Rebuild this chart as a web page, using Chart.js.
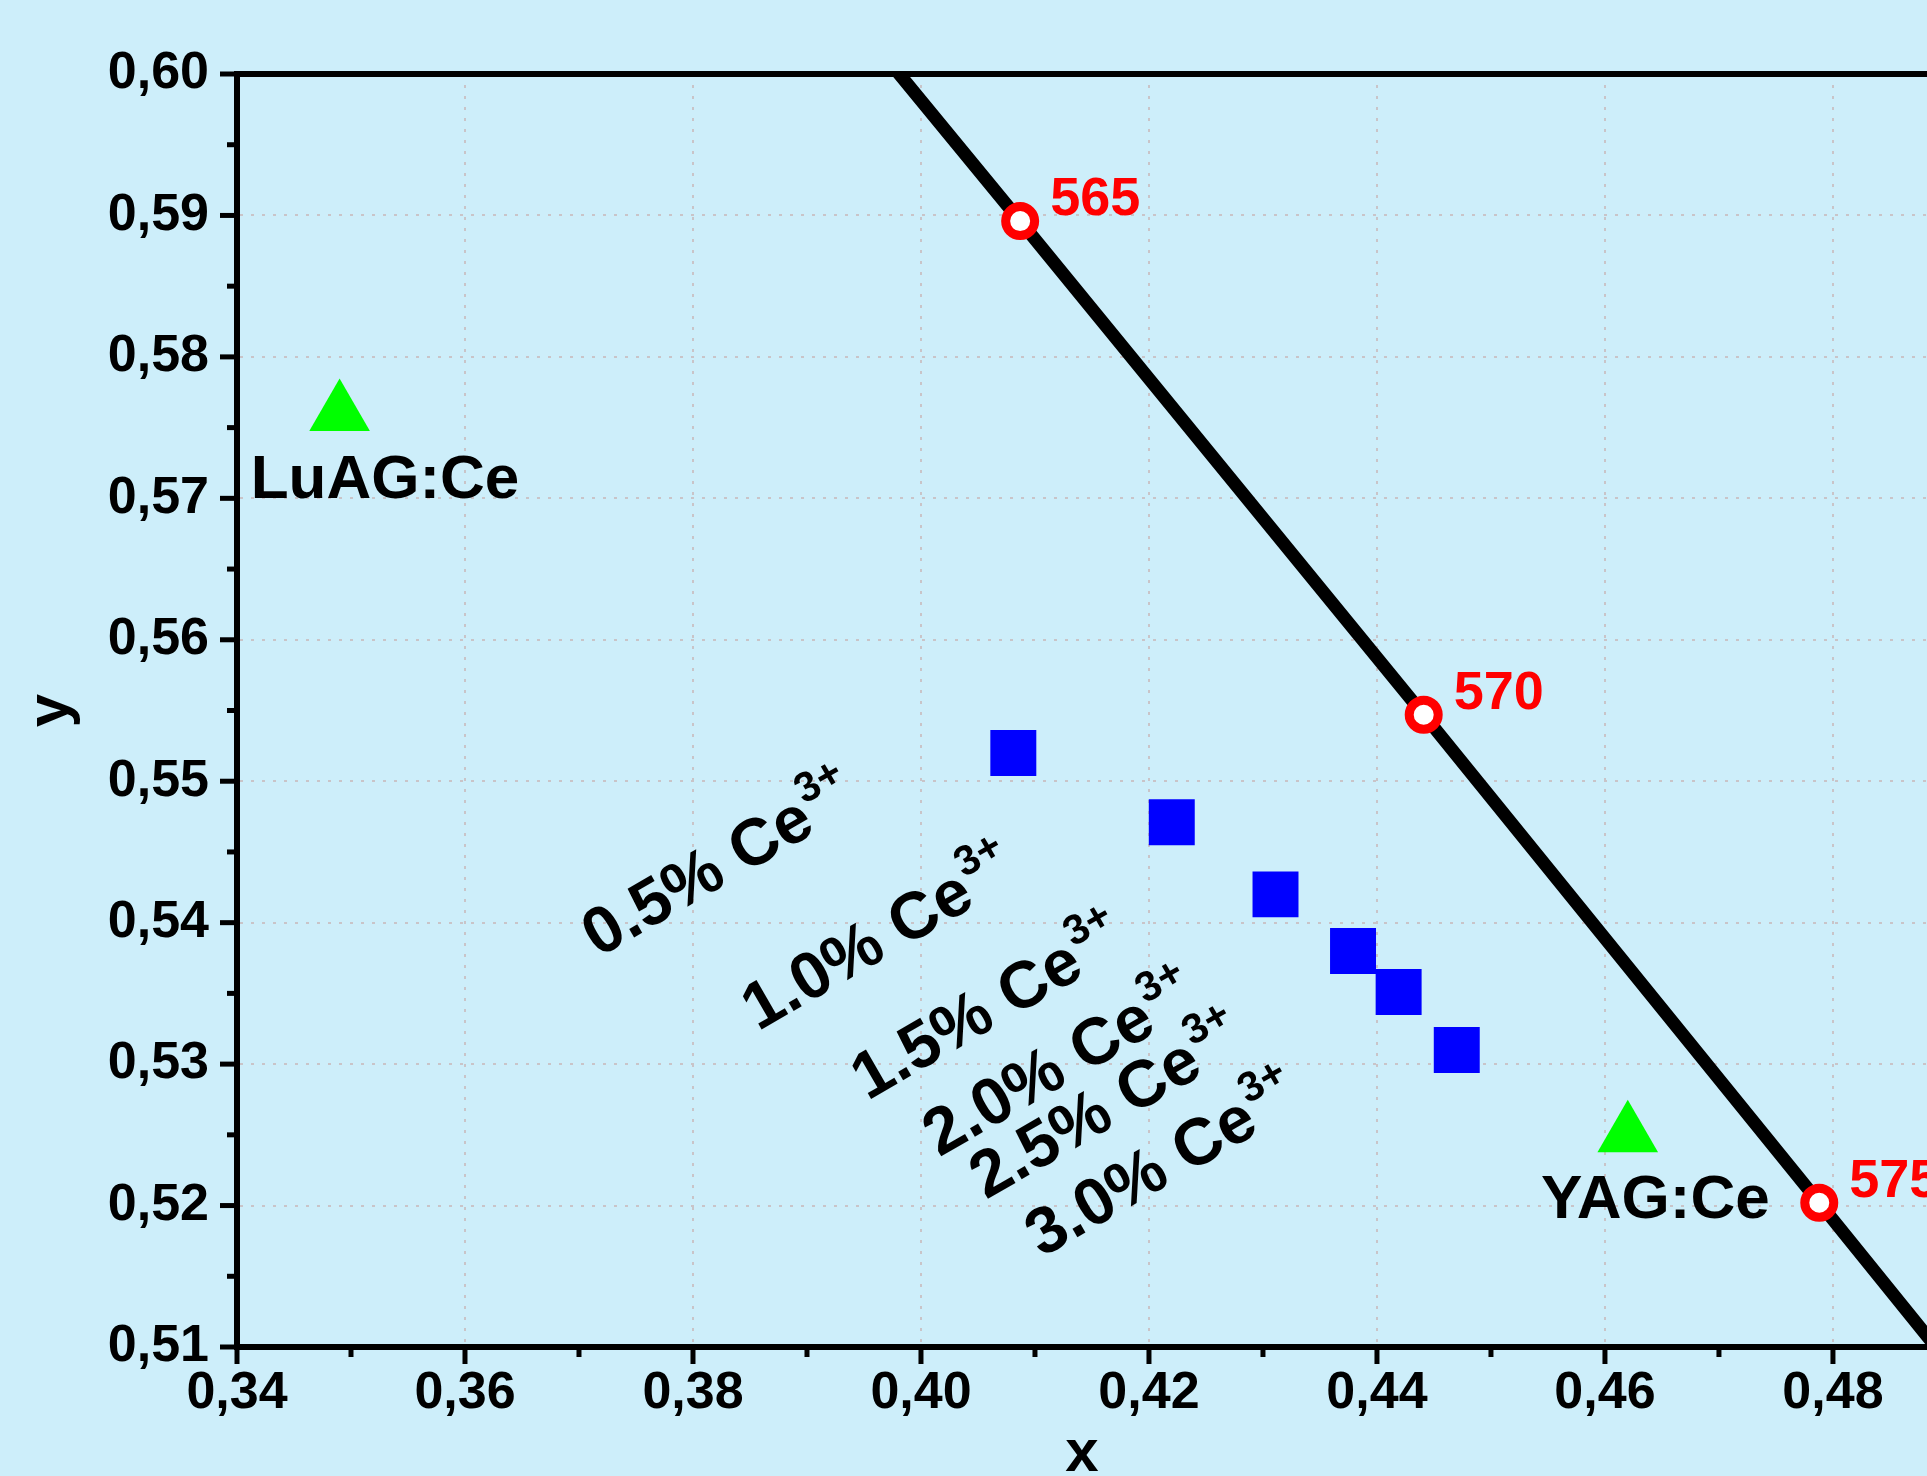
<!DOCTYPE html>
<html lang="en">

<head>
    <meta charset="UTF-8">
    <title>Diagrama CIE - Ce3+</title>
    <script src="https://cdn.jsdelivr.net/npm/chart.js"></script>
    <style>
        html, body { margin: 0; padding: 0; background: #cdeefa; overflow: hidden; }
        .grafico { width: 1927px; height: 1476px; }
    </style>
</head>

<body>
    <div class="grafico">
        <canvas id="myChart" width="1927" height="1476"></canvas>
    </div>

<script>
    // spectral locus (CIE 1931) around the yellow region
    const locusNm = [560, 565, 570, 575, 580]
    const locusX = [0.3731, 0.4087, 0.4441, 0.4788, 0.5125]
    const locusY = [0.6245, 0.5896, 0.5547, 0.5202, 0.4866]
    const markedNm = [565, 570, 575]

    // samples, Ce3+ content
    const amostras = ['0.5%', '1.0%', '1.5%', '2.0%', '2.5%', '3.0%']
    const amostraX = [0.4081, 0.4220, 0.4311, 0.4379, 0.4419, 0.4470]
    const amostraY = [0.5520, 0.5471, 0.5420, 0.5380, 0.5351, 0.5310]

    // reference phosphors
    const refNomes = ['LuAG:Ce', 'YAG:Ce']
    const refX = [0.349, 0.462]
    const refY = [0.576, 0.525]

    // axes
    const xTicks = [0.34, 0.36, 0.38, 0.40, 0.42, 0.44, 0.46, 0.48]
    const xTickLabels = ['0,34', '0,36', '0,38', '0,40', '0,42', '0,44', '0,46', '0,48']
    const xMinor = [0.35, 0.37, 0.39, 0.41, 0.43, 0.45, 0.47]
    const yTicks = [0.51, 0.52, 0.53, 0.54, 0.55, 0.56, 0.57, 0.58, 0.59, 0.60]
    const yTickLabels = ['0,51', '0,52', '0,53', '0,54', '0,55', '0,56', '0,57', '0,58', '0,59', '0,60']
    const yMinor = [0.515, 0.525, 0.535, 0.545, 0.555, 0.565, 0.575, 0.585, 0.595]

    // where the text labels start (baseline, in data units)
    const rotuloPos = [[0.3717, 0.5375], [0.3857, 0.5323], [0.3953, 0.5274], [0.4016, 0.5234], [0.4057, 0.5204], [0.4106, 0.5163]]
    const refRotuloPos = [[0.3412, 0.5700], [0.4544, 0.5191]]

    const FUNDO = '#cdeefa'
    const FONTE = '"Liberation Sans", Arial, sans-serif'
    Chart.defaults.font.family = FONTE
    Chart.defaults.color = '#000000'

    const desenho = {
        id: 'desenho',
        beforeDraw(chart) {
            const ctx = chart.ctx
            ctx.save()
            ctx.fillStyle = FUNDO
            ctx.fillRect(0, 0, chart.width, chart.height)
            ctx.restore()
        },
        afterDraw(chart) {
            const { ctx, chartArea: a, scales: { x, y } } = chart
            ctx.save()

            // top frame
            ctx.strokeStyle = '#000000'
            ctx.lineWidth = 6
            ctx.beginPath()
            ctx.moveTo(a.left - 3, a.top)
            ctx.lineTo(a.right, a.top)
            ctx.stroke()

            // tick marks, outside
            ctx.lineWidth = 5
            const marca = (x1, y1, x2, y2) => {
                ctx.beginPath(); ctx.moveTo(x1, y1); ctx.lineTo(x2, y2); ctx.stroke()
            }
            xTicks.forEach(v => { const p = x.getPixelForValue(v); marca(p, a.bottom, p, a.bottom + 17) })
            xMinor.forEach(v => { const p = x.getPixelForValue(v); marca(p, a.bottom, p, a.bottom + 10) })
            yTicks.forEach(v => { const p = y.getPixelForValue(v); marca(a.left, p, a.left - 17, p) })
            yMinor.forEach(v => { const p = y.getPixelForValue(v); marca(a.left, p, a.left - 10, p) })

            // wavelength labels
            ctx.fillStyle = '#ff0000'
            ctx.font = 'bold 54px ' + FONTE
            ctx.textAlign = 'left'
            ctx.textBaseline = 'alphabetic'
            locusNm.forEach((nm, i) => {
                if (!markedNm.includes(nm)) return
                ctx.fillText(String(nm), x.getPixelForValue(locusX[i]) + 30, y.getPixelForValue(locusY[i]) - 6)
            })

            // reference phosphor names
            ctx.fillStyle = '#000000'
            ctx.font = 'bold 62px ' + FONTE
            refNomes.forEach((nome, i) => {
                ctx.fillText(nome, x.getPixelForValue(refRotuloPos[i][0]), y.getPixelForValue(refRotuloPos[i][1]))
            })

            // Ce3+ content, rotated
            amostras.forEach((txt, i) => {
                const px = x.getPixelForValue(rotuloPos[i][0])
                const py = y.getPixelForValue(rotuloPos[i][1])
                ctx.save()
                ctx.translate(px, py)
                ctx.rotate(-30 * Math.PI / 180)
                ctx.font = 'bold 66px ' + FONTE
                const t = txt + ' Ce'
                ctx.fillText(t, 0, 0)
                const w = ctx.measureText(t).width
                ctx.font = 'bold 42px ' + FONTE
                ctx.fillText('3+', w + 2, -30)
                ctx.restore()
            })

            ctx.restore()
        }
    }

    const grade = {
        color: '#c9c4c8',
        lineWidth: 2,
        drawTicks: false
    }

    const config = {
        type: 'scatter',
        data: {
            datasets: [
                {
                    label: 'Amostras',
                    data: amostraX.map((v, i) => ({ x: v, y: amostraY[i] })),
                    pointStyle: 'rect',
                    pointRadius: 32.5,
                    backgroundColor: '#0000ff',
                    borderWidth: 0
                },
                {
                    label: 'Referencias',
                    data: refX.map((v, i) => ({ x: v, y: refY[i] })),
                    pointStyle: 'triangle',
                    pointRadius: 35,
                    backgroundColor: '#00ff00',
                    borderWidth: 0
                },
                {
                    label: 'Locus',
                    data: locusX.map((v, i) => ({ x: v, y: locusY[i], nm: locusNm[i] })),
                    showLine: true,
                    borderColor: '#000000',
                    borderWidth: 13,
                    clip: 0,
                    pointStyle: 'circle',
                    pointRadius: c => (c.raw && markedNm.includes(c.raw.nm)) ? 14.5 : 0,
                    pointBackgroundColor: '#ffffff',
                    pointBorderColor: '#ff0000',
                    pointBorderWidth: 9
                }
            ]
        },
        options: {
            responsive: false,
            animation: false,
            events: [],
            layout: { autoPadding: false, padding: { top: 74, left: 0, right: 0, bottom: 0 } },
            plugins: {
                legend: { display: false },
                tooltip: { enabled: false }
            },
            scales: {
                x: {
                    type: 'linear',
                    min: 0.34,
                    max: 0.48825,
                    afterBuildTicks: s => { s.ticks = xTicks.map(v => ({ value: v })) },
                    afterFit: s => { s.height = 129; s.paddingLeft = 0; s.paddingRight = 0 },
                    ticks: {
                        callback: (v, i) => xTickLabels[i],
                        font: { size: 52, weight: 'bold' },
                        color: '#000000',
                        padding: 15,
                        maxRotation: 0,
                        autoSkip: false
                    },
                    grid: grade,
                    border: { display: true, color: '#000000', width: 6, dash: [3, 8] },
                    title: {
                        display: true,
                        text: 'x',
                        font: { size: 60, weight: 'bold' },
                        color: '#000000',
                        padding: { top: 0, bottom: -14 }
                    }
                },
                y: {
                    type: 'linear',
                    min: 0.51,
                    max: 0.60,
                    afterBuildTicks: s => { s.ticks = yTicks.map(v => ({ value: v })) },
                    afterFit: s => { s.width = 237 },
                    ticks: {
                        callback: (v, i) => yTickLabels[i],
                        font: { size: 52, weight: 'bold' },
                        color: '#000000',
                        padding: 28,
                        autoSkip: false
                    },
                    grid: grade,
                    border: { display: true, color: '#000000', width: 6, dash: [3, 8] },
                    title: {
                        display: true,
                        text: 'y',
                        font: { size: 60, weight: 'bold' },
                        color: '#000000',
                        padding: { top: 15, bottom: 0 }
                    }
                }
            }
        },
        plugins: [desenho]
    }

    const myChart = new Chart(document.getElementById('myChart'), config)
</script>
</body>

</html>
